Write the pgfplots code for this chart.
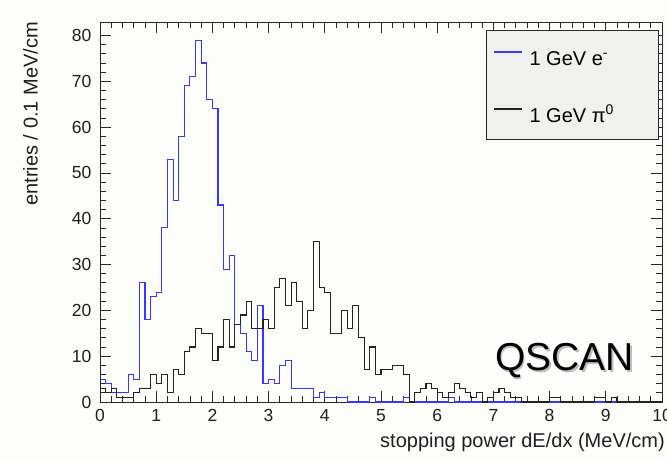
\documentclass[border=0pt]{standalone}
\usepackage{fontspec}
\setmainfont{Liberation Sans}
\usepackage{pgfplots}
\usepackage{pgfplotstable}
\pgfplotsset{compat=1.18}

\definecolor{ebeam}{RGB}{55,55,255}
\definecolor{pibeam}{RGB}{35,35,35}
\definecolor{framecol}{RGB}{40,40,40}
\definecolor{legbg}{RGB}{240,240,238}
\definecolor{pagebg}{RGB}{253,253,251}
\definecolor{shadowcol}{RGB}{190,190,190}

% entries per 0.1 MeV/cm bin, left bin edges
\pgfplotstableread{
x     e   pi
0.0   5   3
0.1   4   2
0.2   2   3
0.3   2   1
0.4   2   1
0.5   6   1
0.6   5   2
0.7  26   3
0.8  18   3
0.9  23   6
1.0  24   4
1.1  38   6
1.2  53   2
1.3  44   7
1.4  58   6
1.5  69  11
1.6  71  12
1.7  79  16
1.8  74  15
1.9  66  15
2.0  64   9
2.1  43  12
2.2  29  18
2.3  32  12
2.4  17  17
2.5  15  19
2.6  11  22
2.7   9  16
2.8  21  16
2.9   4  18
3.0   5  16
3.1   4  25
3.2   8  27
3.3   9  21
3.4   3  26
3.5   3  22
3.6   3  16
3.7   3  20
3.8   1  35
3.9   2  25
4.0   1  24
4.1   1  15
4.2   1  15
4.3   1  20
4.4   0  16
4.5   0  21
4.6   0  14
4.7   0   7
4.8   1  12
4.9   0   6
5.0   0   7
5.1   0   7
5.2   0   8
5.3   0   8
5.4   1   6
5.5   0   0
5.6   0   2
5.7   0   3
5.8   0   4
5.9   0   3
6.0   0   2
6.1   0   1
6.2   1   2
6.3   0   4
6.4   0   3
6.5   0   2
6.6   0   1
6.7   0   2
6.8   0   0
6.9   0   1
7.0   0   2
7.1   0   3
7.2   0   2
7.3   0   1
7.4   0   1
7.5   0   0
7.6   0   0
7.7   0   0
7.8   0   0
7.9   0   0
8.0   0   1
8.1   0   1
8.2   0   0
8.3   0   0
8.4   0   0
8.5   0   0
8.6   0   0
8.7   0   0
8.8   0   1
8.9   0   1
9.0   0   0
9.1   0   1
9.2   0   0
9.3   0   0
9.4   0   0
9.5   0   0
9.6   0   0
9.7   0   0
9.8   0   0
9.9   0   0
10.0  0   0
}\dedxtable

% label with a soft drop shadow, set as one piece of text
\newcommand{\shadowed}[1]{%
  \rlap{\hspace{1.8bp}\raisebox{-1.8bp}{\textcolor{shadowcol}{#1}}}#1}

\begin{document}
\begin{tikzpicture}
\fill[pagebg] (-100bp,-58bp) rectangle (567bp,402bp);
\begin{axis}[
  at={(0,0)}, anchor=south west,
  scale only axis, width=562bp, height=380bp,
  xmin=0, xmax=10, ymin=0, ymax=82.95,
  axis line style={framecol, line width=0.9bp},
  tick style={framecol, line width=0.8bp},
  tick align=inside, xtick pos=both, ytick pos=both,
  xticklabel pos=lower, yticklabel pos=left,
  xtick={0,1,...,10}, ytick={0,10,...,80},
  minor x tick num=4, minor y tick num=4,
  major tick length=11bp, minor tick length=6bp,
  /pgf/number format/assume math mode=true,
  tick label style={font=\fontsize{17.5bp}{20bp}\selectfont, text=black!88, inner sep=0pt},
  xticklabel style={anchor=north, yshift=-7bp},
  yticklabel style={anchor=east, xshift=-8.5bp},
  xlabel={stopping power dE/dx (MeV/cm)},
  ylabel={entries / 0.1 MeV/cm},
  label style={font=\fontsize{20bp}{24bp}\selectfont, inner sep=0pt, text=black!88},
  xlabel style={at={(axis description cs:1.0053,0)}, anchor=base east, yshift=-45bp},
  ylabel style={at={(axis description cs:-0.1237,1)}, anchor=east},
  legend style={at={(rel axis cs:0.688,0.979)}, anchor=north west,
    draw=none, fill=none, inner xsep=6.6bp, inner ysep=20bp,
    font=\fontsize{20bp}{24bp}\selectfont, row sep=38bp,
    nodes={inner sep=0pt, text height=15bp, text depth=4bp},
    /tikz/every odd column/.append style={column sep=7bp}},
  legend cell align=left,
  legend image code/.code={\draw[#1] (0bp,7.7bp) -- (28bp,7.7bp);},
]
\addplot[const plot, ebeam, line width=1.1bp] table[x=x, y=e] {\dedxtable};
\addlegendentry{1 GeV e\textsuperscript{-}}
\addplot[const plot, pibeam, line width=1.1bp] table[x=x, y=pi] {\dedxtable};
\addlegendentry{1 GeV π\textsuperscript{0}}

\draw[draw=framecol, fill=legbg, line width=0.8bp]
  (rel axis cs:0.688,0.692) rectangle (rel axis cs:0.9934,0.979);

\node[anchor=base west, inner sep=0pt, font=\fontsize{39bp}{44bp}\selectfont, text=black]
  at (rel axis cs:0.7028,0.0824) {\shadowed{QSCAN}};
\end{axis}
\pgfresetboundingbox
\path[use as bounding box] (-100bp,-58bp) rectangle (567bp,402bp);
\end{tikzpicture}
\end{document}
